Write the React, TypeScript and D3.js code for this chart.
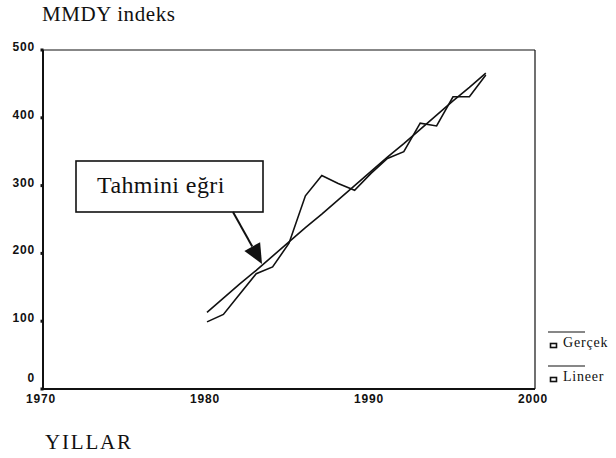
import React from "react";
import * as d3 from "d3";

const width = 616,
  height = 458;

// yillar
const years = [1980, 1981, 1982, 1983, 1984, 1985, 1986, 1987, 1988, 1989, 1990, 1991, 1992, 1993, 1994, 1995, 1996, 1997];
// gercek MMDY indeks
const actual = [99, 110, 140, 170, 180, 215, 285, 315, 303, 293, 318, 340, 350, 392, 388, 431, 431, 463];
// lineer trend
const linear = [113, 134, 155, 175, 196, 217, 238, 258, 279, 300, 321, 342, 362, 383, 404, 425, 445, 466];

const xTicks = [1970, 1980, 1990, 2000];
const yTicks = [0, 100, 200, 300, 400, 500];
const legendNames = ["Gerçek", "Lineer"];

const serif = "'Liberation Serif', 'DejaVu Serif', serif";
const sans = "'Liberation Sans', Arial, sans-serif";

export default function App() {
  const x = d3.scaleLinear().domain([1970, 2000]).range([43, 535]);
  const y = d3.scaleLinear().domain([0, 500]).range([389, 50]);

  const line = d3
    .line<number>()
    .x((_, i) => x(years[i]))
    .y(d => y(d));

  // ok
  const arrowStart: [number, number] = [233, 212];
  const arrowEnd: [number, number] = [262, 264];
  const ang = Math.atan2(arrowEnd[1] - arrowStart[1], arrowEnd[0] - arrowStart[0]);
  const hl = 20,
    hw = 9;
  const bx = arrowEnd[0] - hl * Math.cos(ang),
    by = arrowEnd[1] - hl * Math.sin(ang);
  const head = [
    arrowEnd,
    [bx + hw * Math.sin(ang), by - hw * Math.cos(ang)],
    [bx - hw * Math.sin(ang), by + hw * Math.cos(ang)],
  ]
    .map(p => p.join(","))
    .join(" ");

  return (
    <svg width={width} height={height} style={{ position: "absolute", left: 0, top: 0, background: "#fff" }}>
      <text x={42} y={21} fontFamily={serif} fontSize={21} letterSpacing={0.6} fill="#111">
        MMDY indeks
      </text>

      {/* cerceve */}
      <line x1={x(1970)} x2={x(2000)} y1={y(500)} y2={y(500)} stroke="#111" strokeWidth={1.2} />
      <line x1={x(2000)} x2={x(2000)} y1={y(500)} y2={y(0)} stroke="#111" strokeWidth={1.2} />
      <line x1={x(1970)} x2={x(1970)} y1={y(500)} y2={y(0)} stroke="#111" strokeWidth={2} />
      <line x1={x(1970)} x2={x(2000)} y1={y(0)} y2={y(0)} stroke="#111" strokeWidth={2} />

      {yTicks.map(t => (
        <g key={t}>
          <rect x={x(1970) - 2.5} y={y(t) - 1.5} width={3} height={3} fill="#111" />
          <text
            x={x(1970) - 8}
            y={t === 0 ? y(t) - 7 : y(t) + 1}
            textAnchor="end"
            fontFamily={sans}
            fontWeight="bold"
            fontSize={12}
            letterSpacing={0.8}
            fill="#111"
          >
            {t}
          </text>
        </g>
      ))}
      {xTicks.map(t => (
        <text
          key={t}
          x={x(t) - 2}
          y={y(0) + 14}
          textAnchor="middle"
          fontFamily={sans}
          fontWeight="bold"
          fontSize={12}
          letterSpacing={0.8}
          fill="#111"
        >
          {t}
        </text>
      ))}

      <path d={line(linear) || ""} fill="none" stroke="#111" strokeWidth={1.6} />
      <path d={line(actual) || ""} fill="none" stroke="#111" strokeWidth={1.6} />

      {/* aciklama kutusu */}
      <rect x={76} y={161} width={187} height={51} fill="#fff" stroke="#111" strokeWidth={1.6} />
      <text x={97} y={193} fontFamily={serif} fontSize={24} letterSpacing={0.4} fill="#111">
        Tahmini eğri
      </text>
      <line x1={arrowStart[0]} y1={arrowStart[1]} x2={bx} y2={by} stroke="#111" strokeWidth={2} />
      <polygon points={head} fill="#111" />

      {/* legend */}
      {legendNames.map((n, i) => (
        <g key={n} transform={`translate(548,${332 + i * 34})`}>
          <line x1={0} x2={37} y1={0} y2={0} stroke="#111" strokeWidth={1.2} />
          <rect x={2.5} y={11.5} width={6} height={4} fill="none" stroke="#111" strokeWidth={1.6} />
          <text x={15} y={15} fontFamily={serif} fontSize={14} letterSpacing={0.8} fill="#111">
            {n}
          </text>
        </g>
      ))}

      <text x={45} y={449} fontFamily={serif} fontSize={21} letterSpacing={1.8} fill="#111">
        YILLAR
      </text>
    </svg>
  );
}
